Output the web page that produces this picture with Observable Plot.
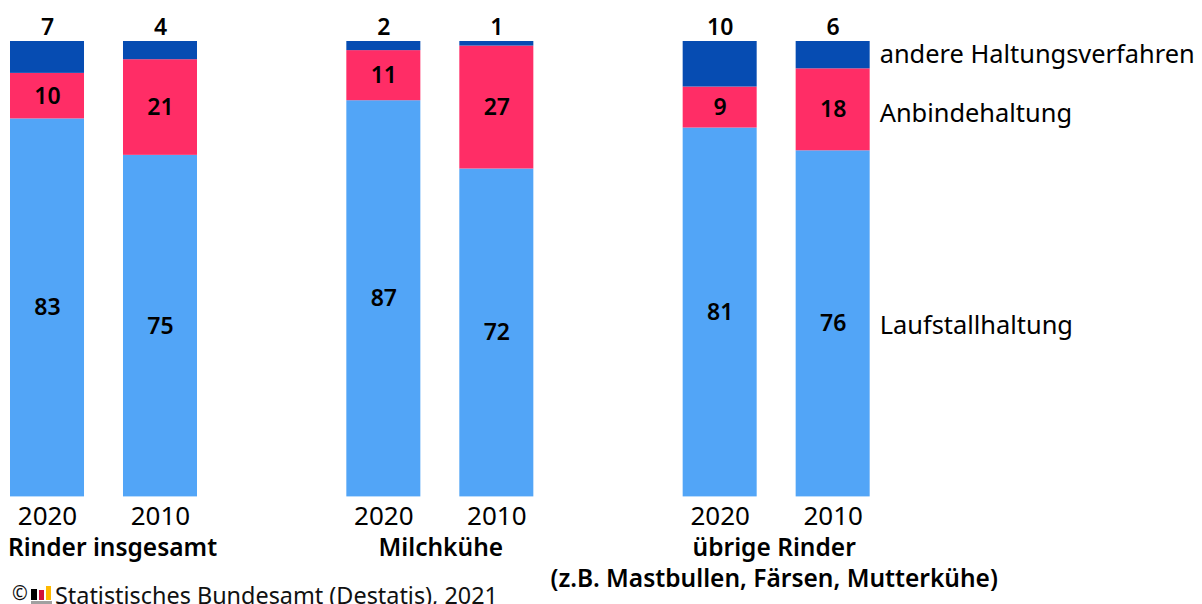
<!DOCTYPE html>
<html><head><meta charset="utf-8">
<script src="https://cdn.jsdelivr.net/npm/d3@7"></script>
<script src="https://cdn.jsdelivr.net/npm/@observablehq/plot@0.6"></script>
<style>
html,body{margin:0;padding:0;background:#fff;overflow:hidden;width:1202px;height:604px}
#chart{position:absolute;left:0;top:0}
#chart svg{overflow:visible;font-family:"Noto Sans",sans-serif}
.cap{position:absolute;font:23.4px/28px "Noto Sans",sans-serif;color:#111;white-space:nowrap}
.logo i{position:absolute;display:block}
</style></head><body>
<div id="chart"></div>
<div class="cap logo" style="left:0;top:0">
<i style="left:31px;top:589px;width:6px;height:11px;background:#000"></i>
<i style="left:39px;top:590px;width:5px;height:10px;background:#d0103a"></i>
<i style="left:46px;top:586px;width:5px;height:14px;background:#ffb900"></i>
<i style="left:31px;top:601px;width:21px;height:3px;background:#a0a0a0"></i>
</div>
<div class="cap" style="left:12px;top:579px;font-size:19px">©</div>
<div class="cap" style="left:55px;top:581px">Statistisches Bundesamt (Destatis), 2021</div>
<script>
const groups = ["Rinder insgesamt", "Milchkühe", "übrige Rinder"];
const years = ["2020", "2010"];
const series = ["Laufstallhaltung", "Anbindehaltung", "andere Haltungsverfahren"];
const colors = ["#52a5f7", "#ff2d66", "#064cb2"];
const laufstall = [83, 75, 87, 72, 81, 76];
const anbinde = [10, 21, 11, 27, 9, 18];
const andere = [7, 4, 2, 1, 10, 6];
const seriesValues = [laufstall, anbinde, andere];

const rows = [];
seriesValues.forEach((vals, s) => vals.forEach((v, i) => rows.push({
  group: groups[Math.floor(i / 2)], year: years[i % 2], series: series[s], value: v, s
})));

const stack = {x: "year", fx: "group", y: "value", z: "series", order: series};
const last = groups[2];

const groupLabel = (group, text, dx, dy) => Plot.text([text], {
  fx: () => group, text: d => d,
  x: () => "2010", y: () => 0, dx, dy, fontSize: 24.5, fontWeight: 600, fill: "#000", textAnchor: "middle"
});
const seriesLabel = (name, dy) => Plot.text(rows.filter(d => d.group === last && d.year === "2010"), Plot.stackY({
  ...stack, text: d => d.series === name ? name : "", textAnchor: "start", dx: 46.5, dy, fontSize: 25.4, fill: "#000"
}));

const chart = Plot.plot({
  width: 1202, height: 604,
  marginTop: 41, marginBottom: 108, marginLeft: 10, marginRight: 184,
  style: {background: "#fff", overflow: "visible"},
  fx: {domain: groups, range: [10, 1019], paddingInner: 0, paddingOuter: 0, round: false, axis: null},
  x: {domain: years, range: [10, 197], paddingInner: 0.345, paddingOuter: 0, round: false, axis: null},
  y: {domain: [0, 100], range: [496.4, 41], axis: null},
  color: {domain: series, range: colors},
  marks: [
    Plot.barY(rows, Plot.stackY({...stack, fill: "series"})),
    Plot.text(rows, Plot.stackY({...stack, text: d => d.s < 2 ? d.value : "", fontSize: 23, fontWeight: 600, fill: "#000"})),
    Plot.text(rows.filter(d => d.s === 2), {x: "year", fx: "group", y: () => 100, text: "value", dy: -14, fontSize: 23, fontWeight: 600, fill: "#000"}),
    Plot.text(rows.filter(d => d.s === 2), {x: "year", fx: "group", y: () => 0, text: "year", dy: 20, fontSize: 26, fill: "#000"}),
    groupLabel(groups[0], groups[0], -48, 51),
    groupLabel(groups[1], groups[1], -56, 51),
    groupLabel(groups[2], groups[2], -59, 51),
    groupLabel(groups[2], "(z.B. Mastbullen, Färsen, Mutterkühe)", -59, 82),
    seriesLabel(series[0], 2),
    seriesLabel(series[1], 4),
    seriesLabel(series[2], 0)
  ]
});
document.getElementById("chart").append(chart);
</script>
</body></html>
